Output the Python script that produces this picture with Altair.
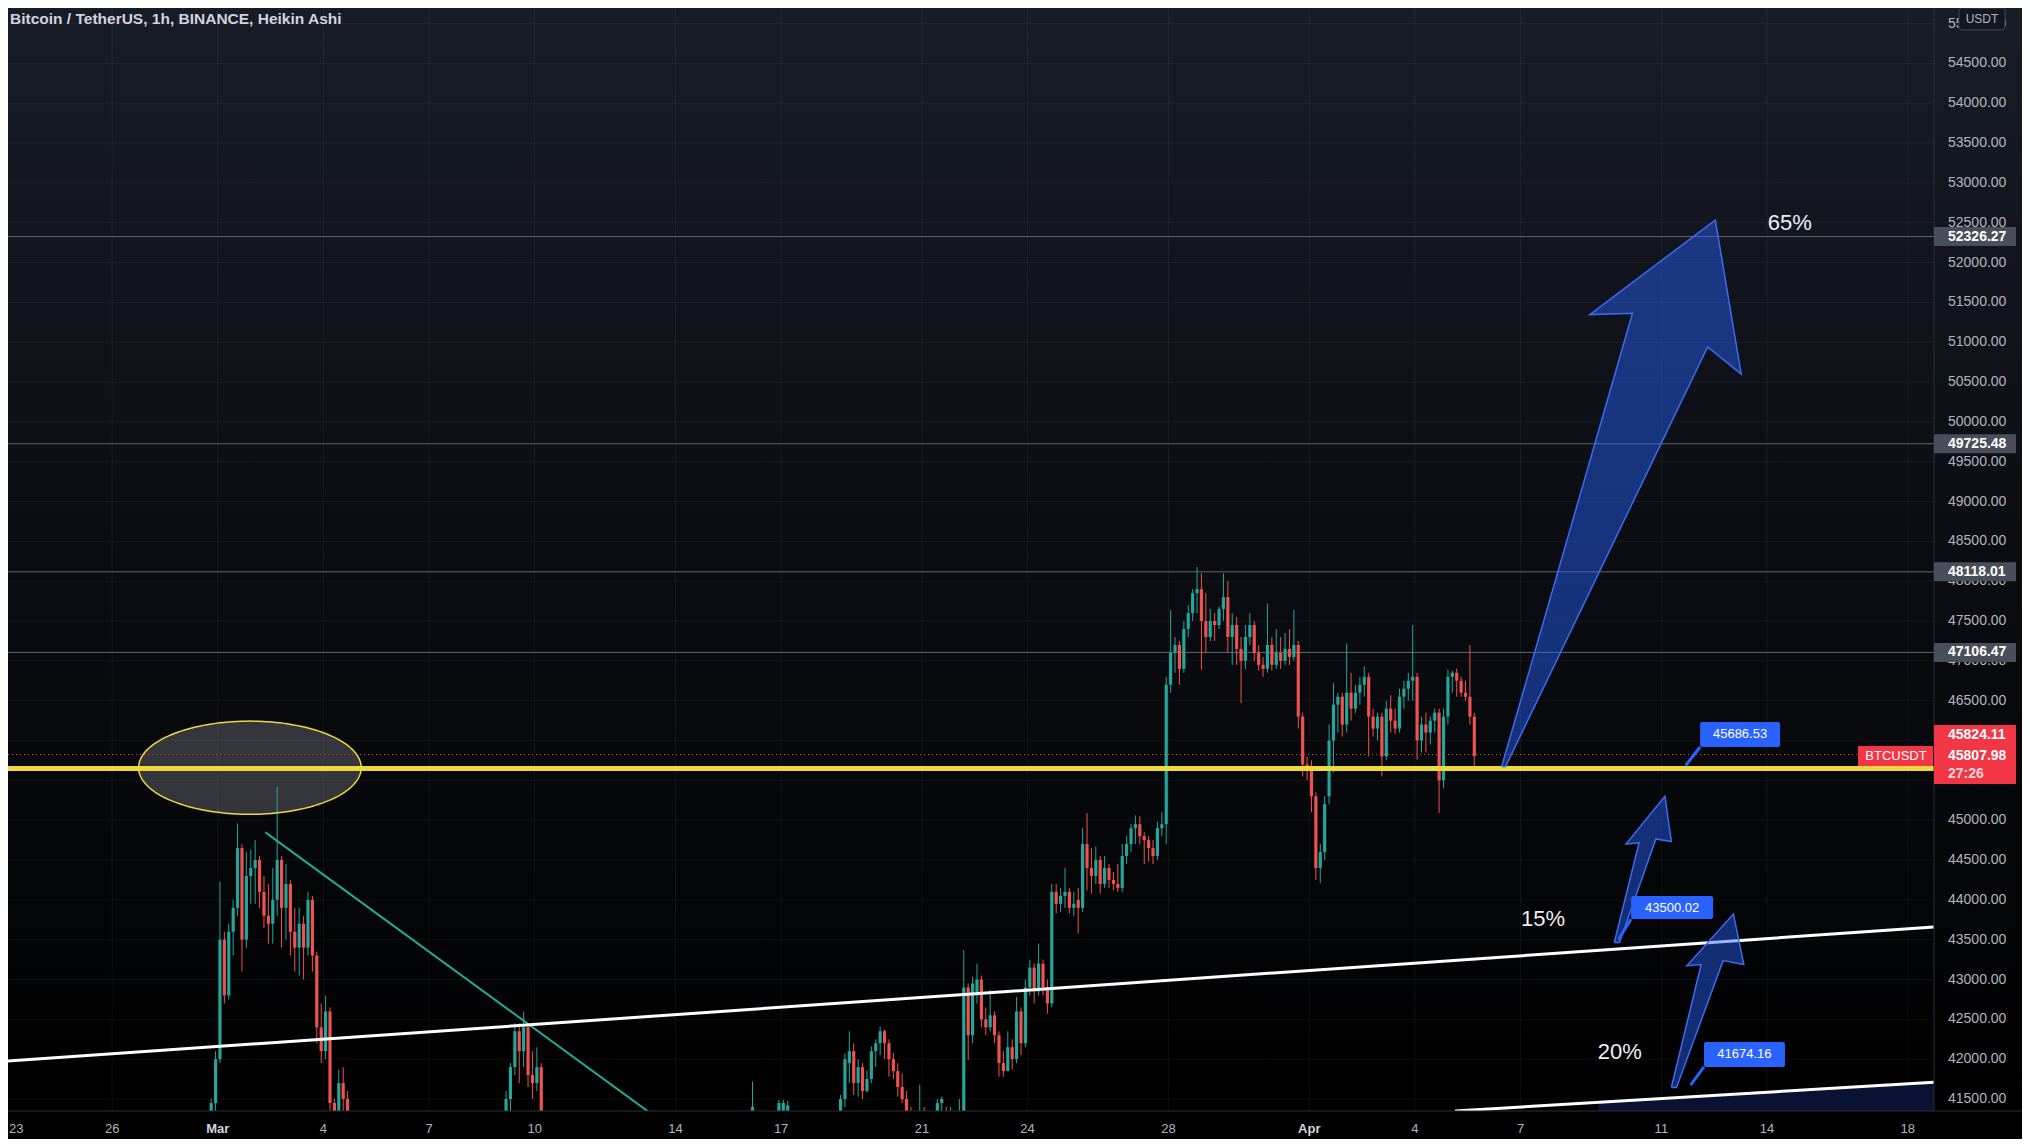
import altair as alt
import numpy as np
import pandas as pd

W, H = 1926, 1103
RIGHT = 88
BASE = pd.Timestamp("2022-02-23 00:00")
X_DOMAIN = [0.0426, 54.743]      # days since 2022-02-23 00:00
Y_DOMAIN = [41349.4, 55195.8]
FONT = "Liberation Sans"
GREEN, RED = "#26a69a", "#ef5350"
YELLOW = "#f0d93c"
BLUE = "#2962ff"

TITLE = "Bitcoin / TetherUS, 1h, BINANCE, Heikin Ashi"

def days(ts):
    return (pd.Timestamp(ts) - BASE) / pd.Timedelta(days=1)

# ---------------- candles: (open, close, high, low), 3h steps ----------------
seg_a_start = "2022-02-28 18:00"
seg_a = [
    (41000, 41450, 41500, 40900), (41450, 42000, 42100, 41300), (42000, 43500, 44230, 41950),
    (43500, 42800, 43600, 42700), (42800, 43600, 43700, 42750), (43600, 43900, 44000, 43300),
    (43900, 44650, 44960, 43800), (44650, 43500, 44700, 43100), (43500, 44300, 44600, 43400),
    (44300, 44400, 44630, 43950), (44400, 44500, 44750, 43950), (44500, 44100, 44550, 43900),
    (44100, 43800, 44300, 43650), (43800, 43700, 44200, 43450), (43700, 44000, 44400, 43450),
    (44000, 44500, 45420, 43800), (44500, 43900, 44550, 43400), (43900, 44200, 44450, 43500),
    (44200, 43600, 44250, 43300), (43600, 43400, 43900, 43100), (43400, 43700, 43900, 43050),
    (43700, 43400, 43800, 43000), (43400, 44000, 44100, 43300), (44000, 43300, 44050, 43100),
    (43300, 42400, 43350, 42200), (42400, 42100, 42700, 41950), (42100, 42600, 42800, 42000),
    (42600, 41450, 42650, 41300), (41450, 41000, 41500, 40800), (41000, 41700, 41870, 40900),
    (41700, 41500, 41900, 41350), (41500, 41000, 41600, 40800),
]
seg_b_start = "2022-03-09 03:00"
seg_b = [
    (41200, 41500, 41600, 41100), (41500, 41900, 41950, 41340), (41900, 42350, 42450, 41800),
    (42350, 42100, 42450, 41700), (42100, 42400, 42600, 41900), (42400, 41800, 42450, 41650),
    (41800, 41700, 42100, 41500), (41700, 41900, 42150, 41600), (41900, 41300, 41950, 41000),
]
seg_c_start = "2022-03-16 03:00"
seg_c = [(41000, 41400, 41720, 40900)]
seg_d_start = "2022-03-16 21:00"
seg_d = [(41100, 41450, 41490, 41000), (41200, 41450, 41490, 41100), (41300, 41420, 41480, 41200)]
seg_e_start = "2022-03-18 15:00"
seg_e = [
    (41000, 41500, 41550, 40900), (41500, 42000, 42074, 41400), (41950, 42100, 42350, 41700),
    (42100, 41700, 42200, 41550), (41700, 41900, 42000, 41530), (41900, 41600, 41950, 41500),
    (41600, 41750, 41860, 41580), (41750, 42100, 42160, 41700), (42100, 42200, 42250, 41900),
    (42200, 42350, 42410, 42050), (42350, 42200, 42370, 42000), (42200, 42000, 42250, 41780),
    (42000, 41850, 42080, 41750), (41850, 41650, 41950, 41530), (41650, 41500, 41820, 41450),
    (41500, 41300, 41600, 41100), (41300, 41100, 41400, 40900), (41100, 41000, 41300, 40800),
    (41000, 41200, 41680, 40900), (41200, 41150, 41400, 41000), (41150, 41000, 41250, 40900),
    (41000, 41100, 41200, 40900), (41100, 41450, 41500, 41000), (41450, 41500, 41530, 41300),
    # Mar 21 15:00 onwards
    (41300, 41200, 41400, 41000), (41200, 41300, 41400, 41000), (41200, 41100, 41300, 40900),
    (41000, 41350, 41500, 40900), (41350, 42900, 43370, 41300), (42900, 42300, 42950, 41990),
    (42300, 42950, 43035, 42200), (42800, 43000, 43200, 42700), (43000, 42500, 43050, 42400),
    (42500, 42400, 42650, 42300), (42400, 42550, 42870, 42350), (42550, 42300, 42600, 42200),
    (42300, 41950, 42350, 41780), (41950, 41850, 42100, 41780), (41850, 42150, 42350, 41850),
    (42150, 42000, 42250, 41870), (42000, 42600, 42780, 41950), (42600, 42200, 42650, 42050),
    (42200, 42900, 43000, 42150), (42900, 43150, 43250, 42800), (43150, 42850, 43200, 42700),
    (42850, 43200, 43450, 42800), (43200, 42900, 43250, 42800), (42900, 42700, 43000, 42570),
    (42700, 44100, 44200, 42650), (44100, 43950, 44200, 43830), (43950, 44050, 44150, 43850),
    (44050, 44100, 44400, 43900), (44100, 43900, 44150, 43830), (43900, 43950, 44100, 43800),
    (44000, 43900, 44150, 43580), (43900, 44700, 44900, 43850), (44700, 44400, 45090, 44120),
    (44400, 44300, 44650, 44080), (44300, 44500, 44670, 44200), (44500, 44200, 44550, 44080),
    (44200, 44400, 44550, 44150), (44400, 44250, 44450, 44150), (44250, 44200, 44350, 44120),
    (44200, 44150, 44450, 44100), (44150, 44550, 44700, 44100), (44550, 44700, 44800, 44450),
    (44700, 44900, 44950, 44600), (44900, 44950, 45060, 44700), (44950, 44800, 45050, 44700),
    (44800, 44750, 44850, 44450), (44750, 44650, 44800, 44480), (44650, 44550, 44750, 44450),
    (44550, 44900, 44980, 44500), (44900, 44950, 45100, 44800), (44950, 46700, 46800, 44700),
    (46700, 47100, 47640, 46600), (47100, 47200, 47300, 46850), (47200, 46900, 47250, 46700),
    (46900, 47400, 47500, 46850), (47400, 47600, 47700, 47300), (47600, 47850, 47900, 47500),
    (47850, 47900, 48180, 47600), (47900, 47500, 48100, 46890), (47500, 47300, 47850, 47100),
    (47300, 47500, 47650, 47250), (47500, 47450, 47600, 47250), (47450, 47650, 47680, 47400),
    (47650, 47800, 48100, 47500), (47800, 47300, 48000, 47100), (47300, 47450, 47600, 46950),
    (47450, 47150, 47550, 46950), (47150, 47000, 47300, 46470), (47000, 47300, 47450, 46900),
    (47300, 47450, 47600, 47200), (47450, 47100, 47500, 47000), (47100, 46950, 47200, 46880),
    (46950, 46900, 47050, 46800), (46900, 47200, 47720, 46850), (47200, 46950, 47300, 46880),
    (46950, 47100, 47400, 46900), (47100, 47000, 47300, 46900), (47000, 47150, 47350, 46950),
    (47150, 47050, 47400, 46950), (47050, 47200, 47640, 47000), (47200, 46300, 47250, 46150),
    (46300, 45700, 46350, 45550), (45700, 45650, 45800, 45500), (45650, 45300, 45750, 45100),
    (45300, 44400, 45350, 44250), (44400, 44600, 44700, 44210), (44600, 45200, 45300, 44500),
    (45300, 46000, 46200, 45200), (46000, 46450, 46720, 45600), (46450, 46550, 46600, 46100),
    (46550, 46200, 46600, 46050), (46200, 46600, 47220, 46100), (46600, 46400, 46850, 46250),
    (46400, 46600, 46700, 46350), (46600, 46700, 46800, 46450), (46700, 46800, 46930, 46550),
    (46800, 46300, 46850, 45800), (46300, 46150, 46400, 46050), (46150, 46300, 46350, 46000),
    (46300, 45800, 46350, 45550), (45800, 46400, 46500, 45750), (46400, 46250, 46570, 46100),
    (46250, 46150, 46400, 46080), (46150, 46550, 46650, 46100), (46550, 46650, 46750, 46400),
    (46650, 46750, 46850, 46500), (46750, 46800, 47450, 46500), (46800, 46000, 46850, 45760),
    (46000, 46200, 46300, 45850), (46200, 46100, 46350, 45850), (46100, 46250, 46300, 45950),
    (46250, 46350, 46400, 46100), (46350, 45500, 46400, 45090), (45500, 46300, 46400, 45400),
    (46300, 46800, 46890, 46200), (46800, 46850, 46880, 46600), (46850, 46750, 46900, 46550),
    (46750, 46600, 46800, 46550), (46600, 46550, 46750, 46500), (46550, 46300, 47200, 46200),
    (46300, 45807.98, 46350, 45670),
]
segments = [(seg_a_start, seg_a), (seg_b_start, seg_b), (seg_c_start, seg_c),
            (seg_d_start, seg_d), (seg_e_start, seg_e)]

rows = []
for start, seg in segments:
    t0 = pd.Timestamp(start)
    for i, (o, c, h, l) in enumerate(seg):
        dc = days(t0 + pd.Timedelta(hours=3 * i)) + 1.5 / 24
        rows.append(dict(dc=dc, x1=dc - 0.045, x2=dc + 0.045, o=o, c=c, h=h, l=l))
candles = pd.DataFrame(rows)

# ---------------- levels and drawings ----------------
level_prices = [52326.27, 49725.48, 48118.01, 47106.47]
level_labels = ["52326.27", "49725.48", "48118.01", "47106.47"]
support_price = 45650
last_price = 45824.11
last_close = "45807.98"
countdown = "27:26"

y_ticks = [v for v in range(41500, 55001, 500) if v not in (45500, 46000)]  # those two sit under the price tag
tick_dates = ["2022-02-23", "2022-02-26", "2022-03-01", "2022-03-04", "2022-03-07", "2022-03-10",
              "2022-03-14", "2022-03-17", "2022-03-21", "2022-03-24", "2022-03-28", "2022-04-01",
              "2022-04-04", "2022-04-07", "2022-04-11", "2022-04-14", "2022-04-18"]
tick_labels = ["23", "26", "Mar", "4", "7", "10", "14", "17", "21", "24", "28", "Apr",
               "4", "7", "11", "14", "18"]
tick_days = [int(round(days(t))) for t in tick_dates]

# trend lines (days since Feb 23, price)
white1_d, white1_p = [-0.185, 54.74], [41969, 43659]
white2_d, white2_p = [41.14, 54.74], [41349.6, 41710]
navy_d, navy_p = [45.2, 54.74], [41457, 41710]
green_d, green_p = [7.353, 18.4], [44847, 41286]

# ellipse highlight
ell_cd, ell_cp, ell_rd, ell_rp = 6.913, 45659, 3.161, 585

# arrows (polygon vertices: days, price)
arrow_big = [(42.465, 45675), (46.180, 51363), (44.967, 51347), (48.532, 52533),
             (49.267, 50600), (48.313, 50940), (42.576, 45675)]
arrow_15 = [(45.663, 43465), (46.365, 44716), (45.996, 44700), (47.101, 45301),
            (47.283, 44732), (46.843, 44765), (45.811, 43465)]
arrow_20 = [(47.283, 41644), (48.129, 43188), (47.725, 43172), (49.046, 43822),
            (49.341, 43188), (48.753, 43237), (47.430, 41644)]

pct_text = ["65%", "15%", "20%"]
pct_d = [50.65, 43.64, 45.82]
pct_p = [52503, 43760, 42084]

call_text = ["45686.53", "43500.02", "41674.16"]
call_ad = [47.69, 45.78, 47.83]
call_ap = [45686.53, 43500.02, 41674.16]
call_d1 = [48.10, 46.14, 48.21]
call_d2 = [50.37, 48.47, 50.51]
call_p1 = [45919, 43760, 41902]
call_p2 = [46233, 44048, 42216]

# ---------------- scales / helpers ----------------
xs = alt.Scale(domain=X_DOMAIN, nice=False, zero=False)
ys = alt.Scale(domain=Y_DOMAIN, nice=False, zero=False)

def X(f):
    return alt.X(f, type="quantitative", scale=xs, axis=None)

def Y(f):
    return alt.Y(f, type="quantitative", scale=ys, axis=None)

one = pd.DataFrame({"a": [0]})

layers = []

# background gradient
bg = alt.Chart(one).mark_rect(
    color=alt.Gradient(gradient="linear",
                       stops=[alt.GradientStop(color="#181c27", offset=0),
                              alt.GradientStop(color="#0c0e14", offset=0.45),
                              alt.GradientStop(color="#000000", offset=1)],
                       x1=0, x2=0, y1=0, y2=1)
).encode(x=alt.value(0), x2=alt.value(W + RIGHT), y=alt.value(0), y2=alt.value(H))
layers.append(bg)

# grid
hgrid = alt.Chart(pd.DataFrame({"p": list(range(41500, 55001, 500))})).mark_rule(
    color="#ffffff", opacity=0.05).encode(y=Y("p"), x=alt.value(0), x2=alt.value(W))
vgrid = alt.Chart(pd.DataFrame({"d": tick_days})).mark_rule(color="#ffffff", opacity=0.05).encode(
    x=X("d"), y=alt.value(0), y2=alt.value(H))
layers += [hgrid, vgrid]

# navy fill under lower trend line
navy = alt.Chart(pd.DataFrame({"d": navy_d, "p": navy_p, "b": [Y_DOMAIN[0]] * 2})).mark_area(
    color="#0b1640", opacity=0.8, clip=True).encode(x=X("d"), y=Y("b"), y2="p:Q")
layers.append(navy)

# horizontal levels
lev = alt.Chart(pd.DataFrame({"p": level_prices})).mark_rule(color="#62656f", strokeWidth=1).encode(
    y=Y("p"), x=alt.value(0), x2=alt.value(W))
layers.append(lev)

# ellipse fill
u = np.cos(np.linspace(np.pi, 0, 81))
half = ell_rp * np.sqrt(np.clip(1 - u ** 2, 0, 1))
ell = pd.DataFrame({"d": ell_cd + ell_rd * u, "top": ell_cp + half, "bot": ell_cp - half})
ell_fill = alt.Chart(ell).mark_area(color="#8a8d98", opacity=0.35, clip=True).encode(
    x=X("d"), y=Y("bot"), y2="top:Q")
layers.append(ell_fill)

# candles
ccol = alt.condition("datum.c >= datum.o", alt.value(GREEN), alt.value(RED))
wicks = alt.Chart(candles).mark_rule(strokeWidth=1, clip=True).encode(
    x=X("dc"), y=Y("l"), y2="h:Q", color=ccol)
bodies = alt.Chart(candles).mark_rect(clip=True).encode(
    x=X("x1"), x2="x2:Q", y=Y("o"), y2="c:Q", color=ccol)
layers += [wicks, bodies]

# trend lines
def seg_line(dv, pv, color, width):
    return alt.Chart(pd.DataFrame({"d": dv, "p": pv})).mark_line(
        color=color, strokeWidth=width, clip=True).encode(x=X("d"), y=Y("p"))

layers.append(seg_line(green_d, green_p, "#22ab94", 2))
layers.append(seg_line(white1_d, white1_p, "#ffffff", 3))
layers.append(seg_line(white2_d, white2_p, "#ffffff", 3))

# last price dotted line
lastline = alt.Chart(pd.DataFrame({"p": [last_price]})).mark_rule(
    color="#f23645", strokeDash=[1, 3], strokeWidth=1).encode(y=Y("p"), x=alt.value(0), x2=alt.value(W))
layers.append(lastline)

# ellipse outline
ell_out = pd.concat([
    pd.DataFrame({"d": ell["d"], "p": ell["top"], "half": "top"}),
    pd.DataFrame({"d": ell["d"], "p": ell["bot"], "half": "bot"})])
layers.append(alt.Chart(ell_out).mark_line(color=YELLOW, strokeWidth=1.5, clip=True).encode(
    x=X("d"), y=Y("p"), detail="half:N"))

# support line
support = alt.Chart(pd.DataFrame({"p": [support_price]})).mark_rule(color=YELLOW, strokeWidth=5).encode(
    y=Y("p"), x=alt.value(0), x2=alt.value(W))
layers.append(support)

# arrows
arows = []
for name, poly in [("big", arrow_big), ("a15", arrow_15), ("a20", arrow_20)]:
    pts = poly + [poly[0]]
    for i, (d, p) in enumerate(pts):
        arows.append(dict(shape=name, i=i, d=d, p=p))
arrows = pd.DataFrame(arows)
layers.append(alt.Chart(arrows).mark_line(
    fill=BLUE, fillOpacity=0.45, stroke="#3a6cf0", strokeWidth=1.5, clip=True).encode(
    x=X("d"), y=Y("p"), order="i:Q", detail="shape:N"))

# callouts
calls = pd.DataFrame({"t": call_text, "ad": call_ad, "ap": call_ap, "d1": call_d1, "d2": call_d2,
                      "p1": call_p1, "p2": call_p2})
calls["dm"] = (calls.d1 + calls.d2) / 2
calls["pm"] = (calls.p1 + calls.p2) / 2
layers.append(alt.Chart(calls).mark_rule(color=BLUE, strokeWidth=3).encode(
    x=X("ad"), y=Y("ap"), x2="d1:Q", y2="p1:Q"))
layers.append(alt.Chart(calls).mark_rect(color=BLUE, cornerRadius=2).encode(
    x=X("d1"), x2="d2:Q", y=Y("p1"), y2="p2:Q"))
layers.append(alt.Chart(calls).mark_text(color="#ffffff", fontSize=13, font=FONT, baseline="middle").encode(
    x=X("dm"), y=Y("pm"), text="t:N"))

# percentage labels
layers.append(alt.Chart(pd.DataFrame({"t": pct_text, "d": pct_d, "p": pct_p})).mark_text(
    color="#eceef4", fontSize=22, font=FONT, baseline="middle").encode(x=X("d"), y=Y("p"), text="t:N"))

# ---------------- date scale (bottom) ----------------
datedf = pd.DataFrame({"d": tick_days, "lab": tick_labels})
datedf["month"] = ~datedf["lab"].str.isdigit()
edge = datedf["d"] < X_DOMAIN[0]
layers.append(alt.Chart(datedf[~datedf.month & ~edge]).mark_text(
    baseline="middle", fontSize=13, font=FONT, color="#b2b5be").encode(
    x=X("d"), y=alt.value(H + 18), text="lab:N"))
layers.append(alt.Chart(datedf[edge]).mark_text(
    align="left", dx=1, baseline="middle", fontSize=13, font=FONT, color="#b2b5be").encode(
    x=alt.value(0), y=alt.value(H + 18), text="lab:N"))
layers.append(alt.Chart(datedf[datedf.month]).mark_text(
    baseline="middle", fontSize=13, font=FONT, fontWeight="bold", color="#d1d4dc").encode(
    x=X("d"), y=alt.value(H + 18), text="lab:N"))

# ---------------- right price scale ----------------
layers.append(alt.Chart(one).mark_rule(color="#2a2e39").encode(
    x=alt.value(W), y=alt.value(0), y2=alt.value(H)))
layers.append(alt.Chart(one).mark_rule(color="#2a2e39").encode(
    y=alt.value(H), x=alt.value(0), x2=alt.value(W + RIGHT)))
layers.append(alt.Chart(pd.DataFrame({"p": y_ticks, "lab": [f"{v:.2f}" for v in y_ticks]})).mark_text(
    align="left", baseline="middle", fontSize=14, font=FONT, color="#b2b5be").encode(
    x=alt.value(W + 14), y=Y("p"), text="lab:N"))

levdf = pd.DataFrame({"p": level_prices, "lab": level_labels})
layers.append(alt.Chart(levdf).mark_rect(color="#4a4e5a", yOffset=-9.5, y2Offset=9.5).encode(
    x=alt.value(W), x2=alt.value(W + 82), y=Y("p"), y2="p:Q"))
layers.append(alt.Chart(levdf).mark_text(align="left", baseline="middle", fontSize=14, font=FONT,
                                         fontWeight="bold", color="#ffffff").encode(
    x=alt.value(W + 14), y=Y("p"), text="lab:N"))

lastdf = pd.DataFrame({"p": [last_price]})
layers.append(alt.Chart(lastdf).mark_rect(color="#f23645", yOffset=-29.5, y2Offset=29.5).encode(
    x=alt.value(W), x2=alt.value(W + 82), y=Y("p"), y2="p:Q"))
for txt, dy, col in [(f"{last_price:.2f}", -19.5, "#ffffff"), (last_close, 1.5, "#ffffff"),
                     (countdown, 19.5, "#ffd6d9")]:
    layers.append(alt.Chart(lastdf).mark_text(align="left", baseline="middle", fontSize=14, font=FONT,
                                              fontWeight="bold", color=col, dy=dy, text=txt).encode(
        x=alt.value(W + 14), y=Y("p")))
layers.append(alt.Chart(lastdf).mark_rect(color="#f23645", yOffset=-8.5, y2Offset=11.5).encode(
    x=alt.value(W - 76), x2=alt.value(W - 1), y=Y("p"), y2="p:Q"))
layers.append(alt.Chart(lastdf).mark_text(baseline="middle", fontSize=13, font=FONT, color="#ffffff",
                                          dy=1.5, text="BTCUSDT").encode(x=alt.value(W - 38), y=Y("p")))

# currency badge and title
layers.append(alt.Chart(one).mark_rect(fill="#131722", stroke="#434651", strokeWidth=1, cornerRadius=3).encode(
    x=alt.value(W + 25), x2=alt.value(W + 71), y=alt.value(0), y2=alt.value(22)))
layers.append(alt.Chart(one).mark_text(fontSize=12, font=FONT, color="#b2b5be", baseline="middle",
                                       text="USDT").encode(x=alt.value(W + 48), y=alt.value(11)))
layers.append(alt.Chart(one).mark_text(align="left", baseline="middle", fontSize=15.5, font=FONT,
                                       fontWeight="bold", color="#d1d4dc", text=TITLE).encode(
    x=alt.value(2), y=alt.value(11)))

chart = alt.layer(*layers).properties(
    width=W, height=H,
    autosize=alt.AutoSizeParams(type="none"),
    padding={"left": 0, "top": 0, "right": RIGHT, "bottom": 28},
).configure(background="#000000").configure_view(stroke=None)

chart.save("out.html", embed_options={"renderer": "svg", "actions": False})
